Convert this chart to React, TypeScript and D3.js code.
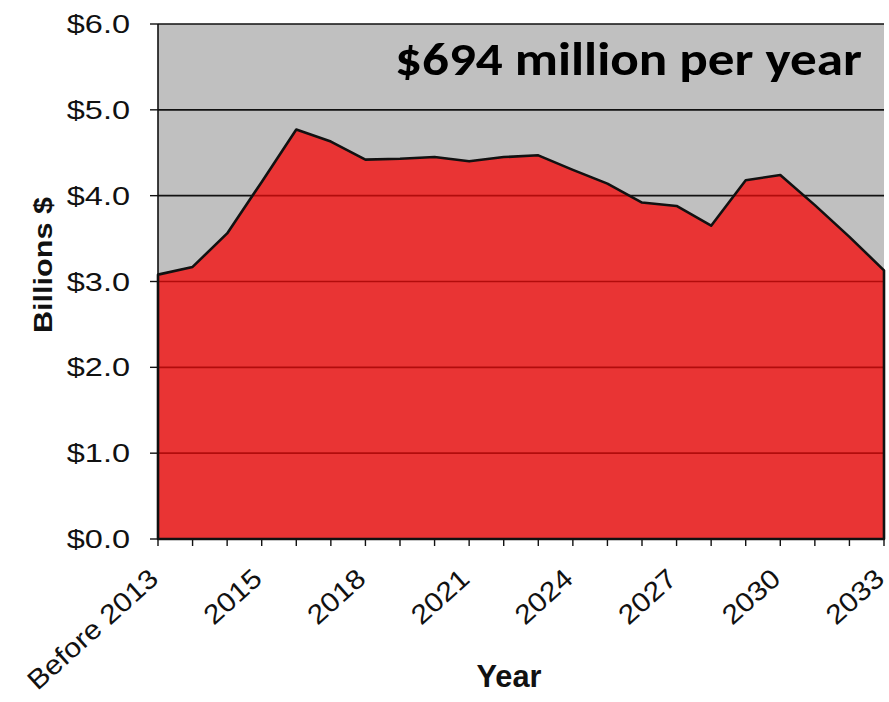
import React from "react";
import * as d3 from "d3";

const categories = [
  "Before 2013", "2013", "2014", "2015", "2016", "2017", "2018", "2019", "2020", "2021", "2022",
  "2023", "2024", "2025", "2026", "2027", "2028", "2029", "2030", "2031", "2032", "2033",
];
const values = [
  3.08, 3.17, 3.56, 4.16, 4.77, 4.63, 4.42, 4.43, 4.45, 4.40, 4.45,
  4.47, 4.30, 4.14, 3.92, 3.88, 3.65, 4.18, 4.24, 3.89, 3.52, 3.13,
];
const yTicks = [0, 1, 2, 3, 4, 5, 6];
const labeledCategories = ["Before 2013", "2015", "2018", "2021", "2024", "2027", "2030", "2033"];
const title = "$694 million per year";
const xTitle = "Year";
const yTitle = "Billions $";

const W = 889, H = 702;
const left = 158, right = 884, top = 24, bottom = 539;

export default function App() {
  const x = d3.scalePoint<string>().domain(categories).range([left, right]);
  const y = d3.scaleLinear().domain([0, 6]).range([bottom, top]);
  const data = categories.map((c, i) => ({ c, v: values[i] }));
  const area = d3
    .area<{ c: string; v: number }>()
    .x((d) => x(d.c) as number)
    .y0(y(0))
    .y1((d) => y(d.v));
  const areaPath = area(data) as string;
  const fmt = (v: number) => "$" + d3.format(".1f")(v);
  const font = "'Liberation Sans', Arial, sans-serif";

  return (
    <svg width={W} height={H} style={{ position: "absolute", left: 0, top: 0, display: "block", background: "#fff" }}>
      <defs>
        <clipPath id="areaClip">
          <path d={areaPath} />
        </clipPath>
      </defs>
      <rect x={left} y={top} width={right - left} height={bottom - top} fill="#c0c0c0" />
      {yTicks.map((t) => (
        <line key={"g" + t} x1={left} x2={right} y1={y(t)} y2={y(t)} stroke="#111" strokeWidth={1.6} />
      ))}
      <path d={areaPath} fill="#e93434" />
      <g clipPath="url(#areaClip)">
        {yTicks.map((t) => (
          <line key={"r" + t} x1={left} x2={right} y1={y(t)} y2={y(t)} stroke="#b20c0c" strokeWidth={1.6} />
        ))}
      </g>
      <path d={areaPath} fill="none" stroke="#111" strokeWidth={2.6} strokeLinejoin="round" />
      <line x1={left} x2={left} y1={top} y2={bottom} stroke="#111" strokeWidth={1.6} />
      <line x1={left} x2={right} y1={bottom} y2={bottom} stroke="#111" strokeWidth={2} />
      {yTicks.map((t) => (
        <g key={"yt" + t}>
          <line x1={left - 8} x2={left} y1={y(t)} y2={y(t)} stroke="#111" strokeWidth={1.4} />
          <text
            transform={`translate(130,${y(t)}) scale(1.3,1)`}
            textAnchor="end"
            dy="0.36em"
            fontFamily={font}
            fontSize={25}
            fill="#111"
          >
            {fmt(t)}
          </text>
        </g>
      ))}
      {categories.map((c) => (
        <line key={"xt" + c} x1={x(c)} x2={x(c)} y1={bottom} y2={bottom + 7} stroke="#111" strokeWidth={1.4} />
      ))}
      {labeledCategories.map((c) => (
        <text
          key={"xl" + c}
          transform={`translate(${(x(c) as number) + 2},581) rotate(-42) scale(1.12,1)`}
          textAnchor="end"
          fontFamily={font}
          fontSize={27}
          fill="#111"
        >
          {c}
        </text>
      ))}
      <text x={509} y={687} textAnchor="middle" fontFamily={font} fontWeight="bold" fontSize={32} fill="#111"
        textLength={65} lengthAdjust="spacingAndGlyphs">
        {xTitle}
      </text>
      <text
        transform="translate(52,265) rotate(-90)"
        textAnchor="middle"
        fontFamily={font}
        fontWeight="bold"
        fontSize={26}
        fill="#111"
        textLength={136}
        lengthAdjust="spacingAndGlyphs"
      >
        {yTitle}
      </text>
      <text
        x={862}
        y={75}
        textAnchor="end"
        fontFamily="Carlito, Lato, 'Open Sans', sans-serif"
        fontWeight="bold"
        fontSize={46}
        fill="#000"
        textLength={467}
        lengthAdjust="spacingAndGlyphs"
      >
        {title}
      </text>
    </svg>
  );
}
